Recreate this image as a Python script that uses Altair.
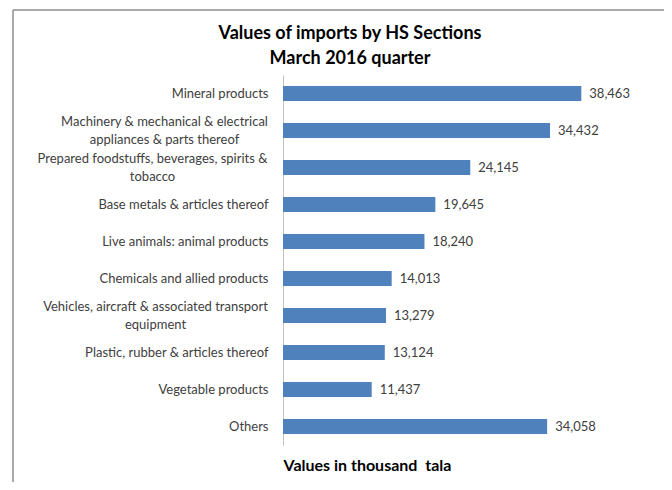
import altair as alt
import pandas as pd

title_lines = ["Values of imports by HS Sections", "March 2016 quarter"]
categories = [
    "Mineral products",
    "Machinery & mechanical & electrical\nappliances & parts thereof",
    "Prepared foodstuffs, beverages, spirits &\ntobacco",
    "Base metals & articles thereof",
    "Live animals: animal products",
    "Chemicals and allied products",
    "Vehicles, aircraft & associated transport\nequipment",
    "Plastic, rubber & articles thereof",
    "Vegetable products",
    "Others",
]
values = [38463, 34432, 24145, 19645, 18240, 14013, 13279, 13124, 11437, 34058]

df = pd.DataFrame({"cat": categories, "val": values})

FONT = "Lato"

y_enc = alt.Y(
    "cat:N",
    sort=categories,
    title=None,
    scale=alt.Scale(paddingInner=0.6, paddingOuter=0.3),
    axis=alt.Axis(
        labelExpr="split(datum.label, '\\n')",
        labelFont=FONT,
        labelFontSize=13,
        labelColor="#404040",
        labelPadding={
            "condition": [
                {"test": "indexof(datum.value, 'Machinery') >= 0", "value": 119},
                {"test": "indexof(datum.value, 'Prepared') >= 0", "value": 131},
                {"test": "indexof(datum.value, 'Vehicles') >= 0", "value": 128},
            ],
            "value": 15,
        },
        labelAlign={
            "condition": {"test": "indexof(datum.value, '\\n') >= 0", "value": "center"},
            "value": "right",
        },
        labelLineHeight=18,
        labelLimit=400,
        labelOffset={
            "condition": {"test": "indexof(datum.value, '\\n') >= 0", "value": -9},
            "value": 0,
        },
        ticks=False,
        domainColor="#c0c0c0",
        domainWidth=1,
    ),
)

x_enc = alt.X(
    "val:Q",
    scale=alt.Scale(domain=[0, 45000], nice=False),
    title="Values in thousand\u00a0 tala",
    axis=alt.Axis(
        labels=False,
        ticks=False,
        domain=False,
        grid=False,
        titleAnchor="start",
        titleAlign="left",
        titleFont=FONT,
        titleFontSize=16,
        titleFontWeight="bold",
        titleColor="#000000",
        titlePadding=12,
    ),
)

base = alt.Chart(df)

bars = base.mark_bar(color="#4F81BD").encode(x=x_enc, y=y_enc)

texts = base.mark_text(
    align="left", baseline="middle", dx=8, font=FONT, fontSize=13, color="#404040"
).encode(
    x="val:Q",
    y=alt.Y("cat:N", sort=categories),
    text=alt.Text("val:Q", format=","),
)

one = alt.Chart(pd.DataFrame({"a": [0]}))
border_left = one.mark_rule(color="#8c8c8c", strokeWidth=1.5).encode(
    x=alt.value(-270), y=alt.value(-65), y2=alt.value(420)
)
border_top = one.mark_rule(color="#8c8c8c", strokeWidth=1.5).encode(
    x=alt.value(-270), x2=alt.value(400), y=alt.value(-65)
)

title1 = one.mark_text(
    font=FONT, fontSize=18, fontWeight="bold", color="#000000",
    align="center", baseline="middle",
).encode(x=alt.value(67), y=alt.value(-41), text=alt.value(title_lines[0]))
title2 = one.mark_text(
    font=FONT, fontSize=18, fontWeight="bold", color="#000000",
    align="center", baseline="middle",
).encode(x=alt.value(67), y=alt.value(-16), text=alt.value(title_lines[1]))

chart = (
    alt.layer(bars, texts, border_left, border_top, title1, title2)
    .properties(
        width=349,
        height=370,
        autosize=alt.AutoSizeParams(type="none"),
        padding={"left": 275, "top": 67, "right": 32, "bottom": 37},
    )
    .configure_view(stroke=None)
)

chart.save("out.html", embed_options={"renderer": "svg", "actions": False})
